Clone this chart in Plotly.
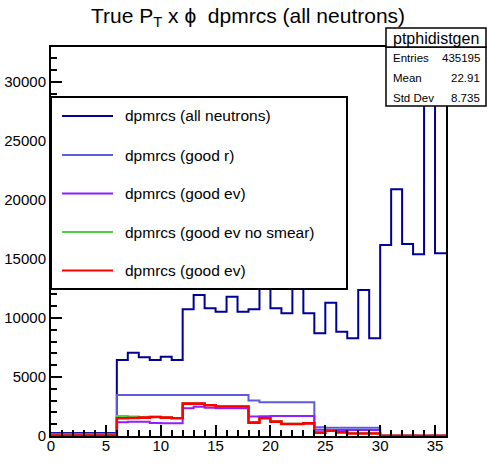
import plotly.graph_objects as go

# ---------------- data ----------------
bin_edges = list(range(0, 37))  # 36 bins of width 1, from 0 to 36

all_neutrons = [250, 250, 250, 250, 250, 250,
                6441, 7060, 6667, 6441, 6723, 6441,
                10735, 11950, 10820, 10537, 11808, 10537,
                10735, 13000, 10820, 10396, 12800, 10396,
                8700, 11300, 8842, 8277, 12373, 8277,
                16187, 20906, 16272, 15396, 31400, 15480]

good_r = [200, 200, 200, 200, 200, 200,
          3475, 3475, 3475, 3475, 3475, 3475,
          3475, 3475, 3475, 3475, 3475, 3475,
          3000, 2850, 2850, 2850, 2850, 2850,
          750, 700, 700, 690, 690, 690,
          30, 30, 30, 30, 30, 30]

good_ev = [60, 60, 60, 60, 60, 60,
           1160, 1215, 1215, 1100, 1073, 1073,
           2345, 2486, 2400, 2345, 2345, 2345,
           1650, 1670, 1700, 1700, 1700, 1700,
           520, 510, 500, 500, 500, 500,
           20, 20, 20, 20, 20, 20]

good_ev_nosmear = [40, 40, 40, 40, 40, 40,
                   1700, 1650, 1600, 1640, 1590, 1530,
                   2770, 2770, 2630, 2530, 2530, 2530,
                   1160, 1530, 1245, 1047, 1047, 1103,
                   300, 470, 330, 230, 230, 230,
                   20, 20, 20, 20, 20, 20]

good_ev_red = [30, 30, 30, 30, 30, 30,
               1500, 1530, 1560, 1610, 1560, 1500,
               2740, 2740, 2600, 2500, 2500, 2500,
               1130, 1500, 1215, 1017, 1017, 1073,
               282, 450, 310, 210, 210, 210,
               15, 15, 15, 15, 15, 15]

series_names = ["dpmrcs (all neutrons)", "dpmrcs (good r)", "dpmrcs (good ev)",
                "dpmrcs (good ev no smear)", "dpmrcs (good ev)"]
series_values = [all_neutrons, good_r, good_ev, good_ev_nosmear, good_ev_red]
series_colors = ["#000099", "#5c5cdc", "#8f1fff", "#4fd040", "#ff0000"]
series_widths = [2, 2, 2, 2, 2.6]

x_ticks = [0, 5, 10, 15, 20, 25, 30, 35]
y_ticks = [0, 5000, 10000, 15000, 20000, 25000, 30000]

stats_title = "ptphidistgen"
stats_rows = [("Entries", "435195"), ("Mean", "22.91"), ("Std Dev", "8.735")]

# ---------------- layout geometry ----------------
W, H = 487, 470
L, R, T, B = 51, 446, 47, 436
PW, PH = R - L, B - T
FONT = "Liberation Sans, Arial, Helvetica, sans-serif"


def X(px):
    return (px - L) / PW


def Y(py):
    return (B - py) / PH


fig = go.Figure()
for name, vals, col, w in zip(series_names, series_values, series_colors, series_widths):
    fig.add_trace(go.Scatter(
        x=bin_edges, y=list(vals) + [vals[-1]],
        mode="lines", line=dict(color=col, width=w, shape="hv"),
        name=name, showlegend=False, hoverinfo="skip"))

ymax = max(all_neutrons) * 1.05

shapes = []
annotations = []

# legend box
lx0, lx1, ly0, ly1 = 51, 347, 97, 289
shapes.append(dict(type="rect", xref="paper", yref="paper", x0=X(lx0), x1=X(lx1),
                   y0=Y(ly1), y1=Y(ly0), fillcolor="white",
                   line=dict(color="black", width=2), layer="above"))
entry_y = [116, 155, 193.5, 232, 270.5]
for name, col, ey in zip(series_names, series_colors, entry_y):
    shapes.append(dict(type="line", xref="paper", yref="paper", x0=X(62), x1=X(113),
                       y0=Y(ey), y1=Y(ey), line=dict(color=col, width=2), layer="above"))
    annotations.append(dict(text=name, xref="paper", yref="paper", x=X(123), y=Y(ey),
                            xanchor="left", yanchor="middle", showarrow=False,
                            font=dict(family=FONT, size=15.5, color="black")))

# stats box
sx0, sx1 = 386, 486
shapes.append(dict(type="rect", xref="paper", yref="paper", x0=X(sx0), x1=X(sx1),
                   y0=Y(106), y1=Y(47), fillcolor="white",
                   line=dict(color="black", width=1.5), layer="above"))
shapes.append(dict(type="rect", xref="paper", yref="paper", x0=X(sx0), x1=X(sx1),
                   y0=Y(47), y1=Y(28), fillcolor="white",
                   line=dict(color="black", width=1.5), layer="above"))
annotations.append(dict(text=stats_title, xref="paper", yref="paper", x=X(436), y=Y(38),
                        xanchor="center", yanchor="middle", showarrow=False,
                        font=dict(family=FONT, size=16, color="black")))
for (lab, val), ry in zip(stats_rows, [58, 78, 98]):
    annotations.append(dict(text=lab, xref="paper", yref="paper", x=X(391), y=Y(ry),
                            xanchor="left", yanchor="middle", showarrow=False,
                            font=dict(family=FONT, size=11.5, color="black")))
    annotations.append(dict(text=val, xref="paper", yref="paper", x=X(482), y=Y(ry),
                            xanchor="right", yanchor="middle", showarrow=False,
                            font=dict(family=FONT, size=11.5, color="black")))

# title
annotations.append(dict(text="True P<sub>T</sub> x \u03d5  dpmrcs (all neutrons)",
                        xref="paper", yref="paper", x=X(248), y=Y(17),
                        xanchor="center", yanchor="middle", showarrow=False,
                        font=dict(family=FONT, size=21, color="black")))

fig.update_layout(
    width=W, height=H,
    margin=dict(l=L, r=W - R, t=T, b=H - B, pad=0),
    paper_bgcolor="white", plot_bgcolor="white",
    showlegend=False,
    shapes=shapes, annotations=annotations,
    xaxis=dict(range=[0, 36], tickvals=x_ticks, ticktext=[str(v) for v in x_ticks],
               automargin=False, ticklabelstandoff=-5,
               ticks="inside", ticklen=11, tickwidth=1.5, tickcolor="black",
               minor=dict(dtick=1, ticks="inside", ticklen=6, tickwidth=1.5, tickcolor="black"),
               showline=True, linewidth=2, linecolor="black", mirror=True,
               showgrid=False, zeroline=False,
               tickfont=dict(family=FONT, size=15, color="black")),
    yaxis=dict(range=[0, ymax], tickvals=y_ticks, ticktext=[str(v) for v in y_ticks],
               automargin=False,
               ticks="inside", ticklen=11, tickwidth=1.5, tickcolor="black",
               minor=dict(dtick=1000, ticks="inside", ticklen=6, tickwidth=1.5, tickcolor="black"),
               showline=True, linewidth=2, linecolor="black", mirror=True,
               showgrid=False, zeroline=False,
               tickfont=dict(family=FONT, size=15, color="black")),
)

fig.write_html("out.html")
